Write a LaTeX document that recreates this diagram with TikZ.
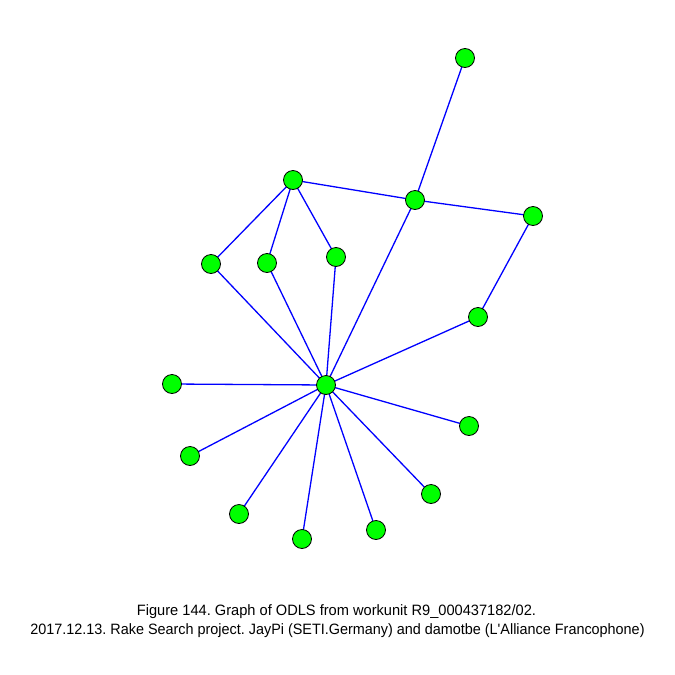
\documentclass[tikz,border=0pt]{standalone}
\usepackage{fontspec}
\setmainfont{Liberation Sans}
\usetikzlibrary{backgrounds}
\begin{document}
\frenchspacing
\begin{tikzpicture}[x=1pt,y=-1pt,
  vtx/.style={circle,draw=black,fill=green,line width=0.8pt,minimum size=19pt,inner sep=0pt},
  edge/.style={draw=blue,line width=1.3pt},
  captxt/.style={font=\fontsize{15}{17}\selectfont,inner sep=0pt,anchor=base}]
\useasboundingbox (0,0) rectangle (675,675);
\node[vtx] (a) at (465,58) {};
\node[vtx] (b) at (415,200) {};
\node[vtx] (c) at (533,216) {};
\node[vtx] (d) at (293,180) {};
\node[vtx] (e) at (211,264) {};
\node[vtx] (f) at (267,263) {};
\node[vtx] (g) at (336,257) {};
\node[vtx] (h) at (478,317) {};
\node[vtx] (x) at (326,385) {};
\node[vtx] (i) at (172,384) {};
\node[vtx] (j) at (190,456) {};
\node[vtx] (k) at (239,514) {};
\node[vtx] (l) at (302,539) {};
\node[vtx] (m) at (376,530) {};
\node[vtx] (n) at (431,494) {};
\node[vtx] (o) at (469,426) {};
\begin{scope}[on background layer]
\foreach \u/\v in {a/b,d/b,b/c,c/h,h/x,b/x,d/e,d/f,d/g,e/x,f/x,g/x,x/i,x/j,x/k,x/l,x/m,x/n,x/o}
  \draw[edge] (\u.center) -- (\v.center);
\end{scope}
\node[captxt,xscale=0.975] (t1) at (336.5,615.5) {Figure 144. Graph of ODLS from workunit R9\_000437182/02.};
\node[captxt,xscale=0.96] (t2) at (337.5,634) {2017.12.13. Rake Search project. JayPi (SETI.Germany) and damotbe (L\textquotesingle Alliance Francophone)};
\end{tikzpicture}
\end{document}
